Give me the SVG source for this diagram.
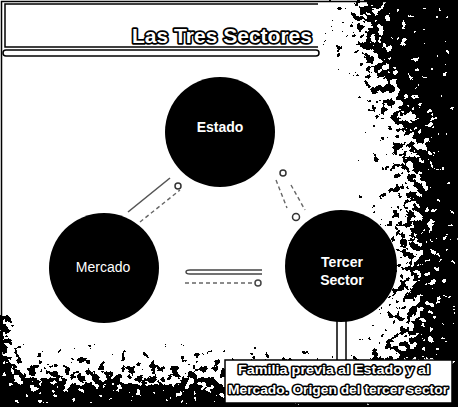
<svg xmlns="http://www.w3.org/2000/svg" width="458" height="407" viewBox="0 0 458 407">
<defs>
<style>
.node{fill:#000}
.lbl{font-family:"Liberation Sans",Arial,sans-serif;font-weight:bold;font-size:14px;fill:#fff;text-anchor:middle}
.outl{font-family:"Liberation Sans",Arial,sans-serif;font-weight:bold;fill:#fff;stroke:#000;stroke-width:3;paint-order:stroke;stroke-linejoin:round}
.conn{fill:none;stroke:#555;stroke-width:1.6}
.dash{fill:none;stroke:#666;stroke-width:1.4;stroke-dasharray:4 3}
</style>
<linearGradient id="gR" x1="350" y1="0" x2="458" y2="0" gradientUnits="userSpaceOnUse">
<stop offset="0" stop-color="#000" stop-opacity="0"/>
<stop offset="0.45" stop-color="#000" stop-opacity="0.42"/>
<stop offset="0.75" stop-color="#000" stop-opacity="0.78"/>
<stop offset="1" stop-color="#000" stop-opacity="1"/>
</linearGradient>
<linearGradient id="gB" x1="0" y1="335" x2="0" y2="407" gradientUnits="userSpaceOnUse">
<stop offset="0" stop-color="#000" stop-opacity="0"/>
<stop offset="0.45" stop-color="#000" stop-opacity="0.4"/>
<stop offset="1" stop-color="#000" stop-opacity="1"/>
</linearGradient>
<linearGradient id="gL" x1="0" y1="0" x2="18" y2="0" gradientUnits="userSpaceOnUse">
<stop offset="0" stop-color="#000" stop-opacity="0.9"/>
<stop offset="1" stop-color="#000" stop-opacity="0"/>
</linearGradient>
<radialGradient id="gT" cx="458" cy="0" r="150" gradientUnits="userSpaceOnUse">
<stop offset="0" stop-color="#000" stop-opacity="1"/>
<stop offset="0.5" stop-color="#000" stop-opacity="0.7"/>
<stop offset="1" stop-color="#000" stop-opacity="0"/>
</radialGradient>
<filter id="grunge" filterUnits="userSpaceOnUse" x="0" y="0" width="458" height="407">
<feTurbulence type="fractalNoise" baseFrequency="0.14" numOctaves="3" seed="7" result="n"/>
<feColorMatrix in="n" type="matrix" values="0 0 0 0 0  0 0 0 0 0  0 0 0 0 0  1.6 0 0 0 -0.3" result="na"/>
<feComposite in="SourceGraphic" in2="na" operator="arithmetic" k1="0" k2="1" k3="1" k4="-0.55" result="s"/>
<feComponentTransfer in="s"><feFuncR type="linear" slope="0" intercept="0"/><feFuncG type="linear" slope="0" intercept="0"/><feFuncB type="linear" slope="0" intercept="0"/><feFuncA type="discrete" tableValues="0 1"/></feComponentTransfer>
</filter>
</defs>
<rect x="0" y="0" width="458" height="407" fill="#fff"/>
<g id="texture" filter="url(#grunge)">
<rect x="350" y="0" width="108" height="407" fill="url(#gR)"/>
<rect x="0" y="335" width="458" height="72" fill="url(#gB)"/>
<rect x="0" y="315" width="18" height="92" fill="url(#gL)"/>
<rect x="300" y="0" width="158" height="150" fill="url(#gT)"/>
</g>
<rect x="1.5" y="1.5" width="455" height="404" fill="none" stroke="#000" stroke-width="1.5"/>
<g id="title">
<path d="M318 4 H5 V47 H318" fill="#fff" stroke="#000" stroke-width="1.5"/>
<rect x="3" y="50" width="316" height="6" rx="3" fill="#fff" stroke="#000" stroke-width="1.5"/>
<text class="outl" x="132" y="43" font-size="21" textLength="180" lengthAdjust="spacingAndGlyphs" style="stroke-width:3.5">Las Tres Sectores</text>
</g>
<g id="connectors">
<line class="conn" x1="128" y1="212" x2="170" y2="178"/>
<line class="dash" x1="140" y1="222" x2="180" y2="190"/>
<circle cx="178" cy="186" r="3" fill="none" stroke="#333" stroke-width="1.5"/>
<line class="dash" x1="276" y1="180" x2="287" y2="208"/>
<line class="dash" x1="291" y1="185" x2="305" y2="210"/>
<circle cx="283" cy="173" r="3" fill="none" stroke="#333" stroke-width="1.5"/>
<circle cx="296" cy="217" r="3.5" fill="none" stroke="#333" stroke-width="1.5"/>
<path d="M190 270 H262 M190 274 H262 M190 270 A4 2 0 0 0 190 274" fill="none" stroke="#444" stroke-width="1.4"/>
<line class="dash" x1="185" y1="283" x2="254" y2="283"/>
<circle cx="258" cy="283" r="3" fill="none" stroke="#444" stroke-width="1.5"/>
<rect x="337" y="318" width="9" height="43" fill="#fff" stroke="#000" stroke-width="1.5"/>
</g>
<g id="estado">
<circle class="node" cx="220" cy="132" r="55"/>
<text class="lbl" x="220" y="132">Estado</text>
</g>
<g id="mercado">
<circle class="node" cx="104" cy="268" r="55"/>
<text class="lbl" x="103" y="272" style="font-weight:normal">Mercado</text>
</g>
<g id="tercer">
<circle class="node" cx="341" cy="266" r="56"/>
<text class="lbl" x="342" y="267">Tercer</text>
<text class="lbl" x="342" y="285">Sector</text>
</g>
<g id="caption">
<rect x="225" y="360" width="227" height="43" fill="#fff" stroke="#000" stroke-width="1.5"/>
<text class="outl" x="238" y="374" font-size="13" textLength="192" lengthAdjust="spacingAndGlyphs">Familia previa al Estado y al</text>
<text class="outl" x="228" y="394" font-size="13" textLength="220" lengthAdjust="spacingAndGlyphs">Mercado. Origen del tercer sector</text>
</g>
</svg>
